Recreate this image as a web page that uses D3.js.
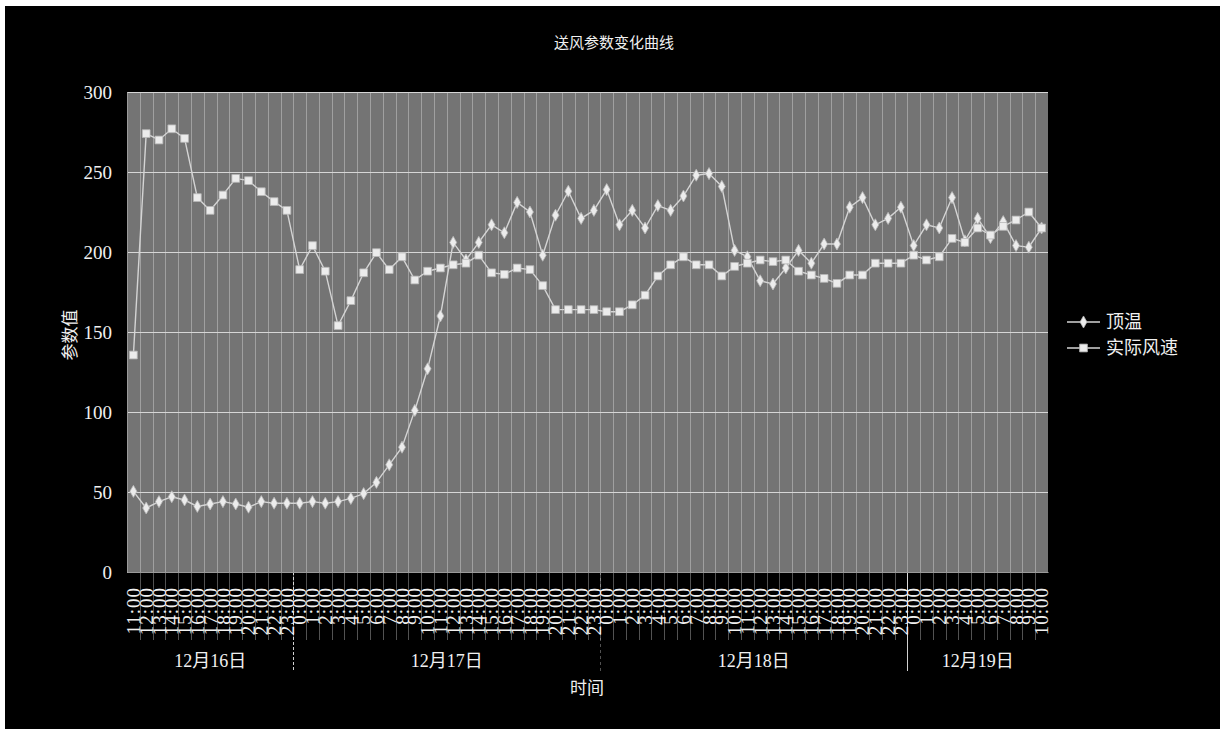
<!DOCTYPE html>
<html>
<head>
<meta charset="utf-8">
<script src="https://cdn.jsdelivr.net/npm/d3@7"></script>
<style>
  html, body { margin: 0; padding: 0; background: #ffffff; }
  svg { display: block; }
  text { font-family: "Liberation Serif", "Noto Sans CJK SC", serif; fill: #f0f0f0; }
</style>
</head>
<body>
<svg id="chart" width="1225" height="734"></svg>
<script>
// Hour of each reading (hourly, 12/16 11:00 through 12/19 10:00)
const hourLabels = [
  "11:00","12:00","13:00","14:00","15:00","16:00","17:00","18:00","19:00","20:00","21:00","22:00","23:00",
  "0:00","1:00","2:00","3:00","4:00","5:00","6:00","7:00","8:00","9:00","10:00","11:00",
  "12:00","13:00","14:00","15:00","16:00","17:00","18:00","19:00","20:00","21:00","22:00","23:00",
  "0:00","1:00","2:00","3:00","4:00","5:00","6:00","7:00","8:00","9:00","10:00","11:00",
  "12:00","13:00","14:00","15:00","16:00","17:00","18:00","19:00","20:00","21:00","22:00","23:00",
  "0:00","1:00","2:00","3:00","4:00","5:00","6:00","7:00","8:00","9:00","10:00"
];

// Day each reading belongs to (outer level of the category axis)
const dayOfPoint = [
  "12月16日","12月16日","12月16日","12月16日","12月16日","12月16日","12月16日","12月16日","12月16日","12月16日","12月16日","12月16日","12月16日",
  "12月17日","12月17日","12月17日","12月17日","12月17日","12月17日","12月17日","12月17日","12月17日","12月17日","12月17日","12月17日",
  "12月17日","12月17日","12月17日","12月17日","12月17日","12月17日","12月17日","12月17日","12月17日","12月17日","12月17日","12月17日",
  "12月18日","12月18日","12月18日","12月18日","12月18日","12月18日","12月18日","12月18日","12月18日","12月18日","12月18日","12月18日",
  "12月18日","12月18日","12月18日","12月18日","12月18日","12月18日","12月18日","12月18日","12月18日","12月18日","12月18日","12月18日",
  "12月19日","12月19日","12月19日","12月19日","12月19日","12月19日","12月19日","12月19日","12月19日","12月19日","12月19日"
];

// 顶温
const topTemp = [
  50.4, 40, 44, 47, 45, 41, 42.5, 44, 42.5, 40.5, 44, 43, 43,
  43, 44, 43, 44, 46, 49, 56, 67, 78, 101, 127, 160,
  206, 195, 206, 217, 212, 231, 225, 198, 223, 238, 221, 226,
  239, 217, 226, 215, 229, 226, 235, 248, 249, 241, 201, 197,
  182, 180, 190, 201, 193, 205, 205, 228, 234, 217, 221, 228,
  204, 217, 215, 234, 207, 221, 209, 219, 204, 203, 215
];

// 实际风速
const airSpeed = [
  135.6, 274, 270, 277, 271, 234, 226, 235.6, 246, 244.6, 237.7, 231.5, 226,
  189, 204, 188, 154, 169.6, 187, 199.6, 189, 197, 182.5, 188, 190,
  192, 193, 198, 187, 186, 190, 189, 179, 164, 164, 164, 164,
  162.7, 162.7, 167, 173, 185, 192, 197, 192, 192, 185, 191, 193,
  195, 194, 195, 188, 185.6, 183.5, 180.4, 185.6, 185.6, 193, 193, 193,
  198, 195, 197, 208.5, 206, 215, 210.6, 216, 220, 225, 215
];

const yTicks = [0, 50, 100, 150, 200, 250, 300];
const seriesNames = ["顶温", "实际风速"];
const chartTitle = "送风参数变化曲线";
const yTitle = "参数值";
const xTitle = "时间";

// ---- layout ----
const plot = { left: 127, right: 1048, top: 92, bottom: 572 };
const svg = d3.select("#chart");

// dark panel inside a thin light frame
svg.append("rect").attr("x", 5).attr("y", 6).attr("width", 1215).attr("height", 723).attr("fill", "#000");

const idx = d3.range(hourLabels.length);
const x = d3.scaleBand().domain(idx).range([plot.left, plot.right]).padding(0);
const xc = i => x(i) + x.bandwidth() / 2;
const y = d3.scaleLinear().domain([0, 300]).range([plot.bottom, plot.top]);

// plot area
svg.append("rect")
  .attr("x", plot.left).attr("y", plot.top)
  .attr("width", plot.right - plot.left).attr("height", plot.bottom - plot.top)
  .attr("fill", "#747474");

// vertical grid lines between categories, continuing down as the inner-level tick marks
const boundaries = idx.slice(1).map(i => x(i));
svg.append("g").attr("shape-rendering", "crispEdges")
  .selectAll("line").data(boundaries).join("line")
  .attr("x1", d => Math.round(d) + 0.5).attr("x2", d => Math.round(d) + 0.5)
  .attr("y1", plot.top).attr("y2", 640)
  .attr("stroke", "#ffffff").attr("stroke-opacity", 0.32);

// horizontal grid lines
svg.append("g").attr("shape-rendering", "crispEdges")
  .selectAll("line").data(yTicks).join("line")
  .attr("x1", plot.left).attr("x2", plot.right)
  .attr("y1", d => Math.round(y(d)) + 0.5).attr("y2", d => Math.round(y(d)) + 0.5)
  .attr("stroke", "#d6d6d6");

// day groups on the outer axis level
const groups = [];
idx.forEach(i => {
  const last = groups[groups.length - 1];
  if (!last || last.name !== dayOfPoint[i]) groups.push({ name: dayOfPoint[i], start: i, end: i });
  else last.end = i;
});
const sepStyle = [
  { dash: "3,2", opacity: 0.9 },
  { dash: "3,3", opacity: 0.35 },
  { dash: null, opacity: 0.9 }
];
svg.append("g").attr("shape-rendering", "crispEdges")
  .selectAll("line").data(groups.slice(1)).join("line")
  .attr("x1", d => Math.round(x(d.start)) + 0.5).attr("x2", d => Math.round(x(d.start)) + 0.5)
  .attr("y1", plot.bottom).attr("y2", 671)
  .attr("stroke", "#e8e8e8")
  .attr("stroke-opacity", (d, k) => sepStyle[k % sepStyle.length].opacity)
  .attr("stroke-dasharray", (d, k) => sepStyle[k % sepStyle.length].dash);

svg.append("g").selectAll("text").data(groups).join("text")
  .attr("x", d => (x(d.start) + x(d.end) + x.bandwidth()) / 2)
  .attr("y", 667)
  .attr("text-anchor", "middle")
  .attr("font-size", 18)
  .text(d => d.name);

// hour labels, rotated
const xAxis = d3.axisBottom(x).tickSize(0).tickFormat(i => hourLabels[i]);
const gx = svg.append("g").attr("transform", `translate(0,${plot.bottom})`).call(xAxis);
gx.select(".domain").attr("stroke", "#9a9a9a");
gx.selectAll(".tick text")
  .attr("transform", "translate(0,15) rotate(-90)")
  .attr("x", 0).attr("y", 0).attr("dy", "0.35em")
  .attr("text-anchor", "end")
  .attr("font-size", 19)
  .attr("letter-spacing", 1)
  .attr("fill", "#f0f0f0")
  .style("font-family", '"Liberation Serif", serif');

// y axis labels
const yAxis = d3.axisLeft(y).tickValues(yTicks).tickSize(0).tickPadding(15);
const gy = svg.append("g").attr("transform", `translate(${plot.left},0)`).call(yAxis);
gy.select(".domain").attr("stroke", "#9a9a9a");
gy.selectAll(".tick text")
  .attr("font-size", 19).attr("fill", "#f0f0f0")
  .style("font-family", '"Liberation Serif", serif');

// series
const series = [
  { name: seriesNames[0], values: topTemp, marker: "diamond" },
  { name: seriesNames[1], values: airSpeed, marker: "square" }
];
const line = d3.line().x((d, i) => xc(i)).y(d => y(d));
const symDiamond = d3.symbol().type(d3.symbolDiamond).size(42);
const symSquare = d3.symbol().type(d3.symbolSquare).size(60);

series.forEach(s => {
  svg.append("path").datum(s.values)
    .attr("d", line)
    .attr("fill", "none")
    .attr("stroke", "#d4d4d4")
    .attr("stroke-width", 1.4);
  svg.append("g").selectAll("path").data(s.values).join("path")
    .attr("transform", (d, i) => `translate(${xc(i)},${y(d)})`)
    .attr("d", s.marker === "diamond" ? symDiamond : symSquare)
    .attr("fill", "#ececec")
    .attr("stroke", "#b8b8b8")
    .attr("stroke-width", 0.8);
});

// legend
const legend = svg.append("g").attr("transform", "translate(1067,0)");
series.forEach((s, k) => {
  const ly = 322 + k * 26;
  legend.append("line").attr("x1", 0).attr("x2", 33).attr("y1", ly).attr("y2", ly)
    .attr("stroke", "#d4d4d4").attr("stroke-width", 1.4);
  legend.append("path").attr("transform", `translate(16.5,${ly})`)
    .attr("d", s.marker === "diamond" ? symDiamond : symSquare)
    .attr("fill", "#ececec").attr("stroke", "#b8b8b8").attr("stroke-width", 0.8);
  legend.append("text").attr("x", 39).attr("y", ly).attr("dy", "0.35em")
    .attr("font-size", 18).text(s.name);
});

// titles
svg.append("text").attr("x", 614).attr("y", 48).attr("text-anchor", "middle")
  .attr("font-size", 15).text(chartTitle);
svg.append("text").attr("transform", "translate(70,335) rotate(-90)")
  .attr("text-anchor", "middle").attr("dy", "0.35em").attr("font-size", 17).text(yTitle);
svg.append("text").attr("x", 587).attr("y", 694).attr("text-anchor", "middle")
  .attr("font-size", 17).text(xTitle);
</script>
</body>
</html>
